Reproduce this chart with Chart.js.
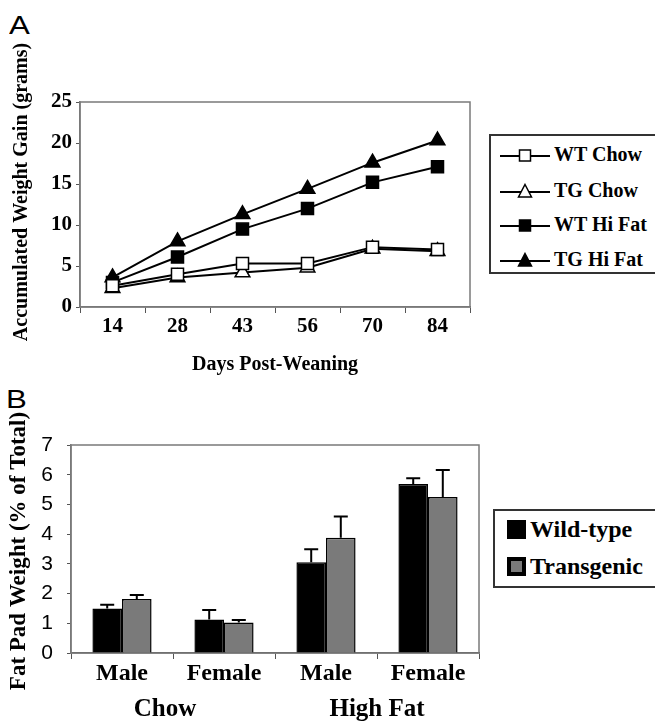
<!DOCTYPE html>
<html>
<head>
<meta charset="utf-8">
<script src="https://cdn.jsdelivr.net/npm/chart.js@4.4.1/dist/chart.umd.min.js"></script>
<style>
  html, body { margin: 0; padding: 0; background: #fff; }
  body { width: 655px; height: 724px; position: relative; overflow: hidden; font-family: "Liberation Serif", serif; }
  .panel-label { position: absolute; font-family: "Liberation Sans", Arial, sans-serif; font-size: 26px; color: #000; line-height: 1; transform: scaleX(1.2); transform-origin: left top; }
  #wrapA { position: absolute; left: 0; top: 0; width: 480px; height: 385px; }
  #wrapB { position: absolute; left: 0; top: 370px; width: 490px; height: 354px; }
  .legend { position: absolute; border: 2px solid #333; background: #fff; box-sizing: border-box; }
  .legend .row { position: absolute; left: 0; display: flex; align-items: center; font-weight: bold; color: #000; white-space: nowrap; }
  #legendA { left: 489px; top: 134px; width: 170px; height: 140px; }
  #legendA .row { font-size: 20px; left: 9px; }
  #legendA svg { margin-right: 4px; }
  #legendB { left: 493px; top: 509px; width: 170px; height: 79px; }
  #legendB .row { font-size: 24px; left: 12px; }
  #legendB .sw { width: 19px; height: 19px; box-sizing: border-box; border: 4px solid #000; margin-right: 4px; }
</style>
</head>
<body>
<div class="panel-label" style="left:9px;top:12px;">A</div>
<div class="panel-label" style="left:6px;top:386px;">B</div>
<div id="wrapA"><canvas id="chartA"></canvas></div>
<div id="wrapB"><canvas id="chartB"></canvas></div>
<div class="legend" id="legendA"></div>
<div class="legend" id="legendB"></div>
<script>
// Panel A: weight gain
const days = ['14', '28', '43', '56', '70', '84'];
const wtChow = [2.6, 4.0, 5.3, 5.3, 7.3, 7.0];
const tgChow = [2.3, 3.6, 4.2, 4.8, 7.1, 6.8];
const wtHiFat = [3.0, 6.1, 9.5, 12.0, 15.2, 17.1];
const tgHiFat = [3.6, 8.0, 11.3, 14.4, 17.6, 20.3];
const gainTicks = [0, 5, 10, 15, 20, 25];

// Panel B: fat pad weight
const sexes = ['Male', 'Female', 'Male', 'Female'];
const diets = ['Chow', 'High Fat'];
const wildType = [1.50, 1.13, 3.05, 5.69];
const wildTypeErr = [0.12, 0.32, 0.44, 0.19];
const transgenic = [1.82, 1.03, 3.88, 5.25];
const transgenicErr = [0.13, 0.08, 0.71, 0.91];
const fatTicks = [0, 1, 2, 3, 4, 5, 6, 7];

Chart.defaults.font.family = '"Liberation Serif", "Times New Roman", serif';
Chart.defaults.color = '#000';

const serifBold = (size) => ({ family: '"Liberation Serif", serif', size, weight: 'bold' });

// gray frame round the plot area
const framePlugin = {
  id: 'frame',
  beforeDatasetsDraw(chart) {
    const { ctx, chartArea: a } = chart;
    ctx.save();
    ctx.strokeStyle = '#7a7a7a';
    ctx.lineWidth = 1.5;
    ctx.strokeRect(a.left, a.top, a.right - a.left, a.bottom - a.top);
    ctx.restore();
  }
};

// rotated y title, placed a bit above the axis middle like the original
const yTitlePlugin = {
  id: 'yTitle',
  afterDraw(chart, args, opts) {
    const { ctx } = chart;
    ctx.save();
    ctx.translate(opts.x, opts.y);
    ctx.rotate(-Math.PI / 2);
    ctx.font = opts.font;
    ctx.fillStyle = '#000';
    ctx.textAlign = 'center';
    ctx.textBaseline = 'middle';
    ctx.fillText(opts.text, 0, 0);
    ctx.restore();
  }
};

// upper error bars on bars
const errorBarPlugin = {
  id: 'errorBars',
  afterDatasetsDraw(chart) {
    const { ctx } = chart;
    const yScale = chart.scales.y;
    chart.data.datasets.forEach((ds, di) => {
      if (!ds.errors) return;
      const meta = chart.getDatasetMeta(di);
      meta.data.forEach((bar, i) => {
        const top = yScale.getPixelForValue(ds.data[i] + ds.errors[i]);
        ctx.save();
        ctx.strokeStyle = '#000';
        ctx.lineWidth = 2;
        ctx.beginPath();
        ctx.moveTo(bar.x, bar.y);
        ctx.lineTo(bar.x, top);
        ctx.moveTo(bar.x - 7, top);
        ctx.lineTo(bar.x + 7, top);
        ctx.stroke();
        ctx.restore();
      });
    });
  }
};

// diet labels under the sex labels
const groupLabelPlugin = {
  id: 'groupLabels',
  afterDraw(chart) {
    const { ctx } = chart;
    const x = chart.scales.x;
    ctx.save();
    ctx.font = 'bold 25px "Liberation Serif", serif';
    ctx.fillStyle = '#000';
    ctx.textAlign = 'center';
    ctx.textBaseline = 'middle';
    diets.forEach((d, g) => {
      const cx = (x.getPixelForValue(g * 2) + x.getPixelForValue(g * 2 + 1)) / 2 - (g === 0 ? 8 : 0);
      ctx.fillText(d, cx, 340);
    });
    ctx.restore();
  }
};

const seriesA = [
  { label: 'WT Chow', data: wtChow, style: 'rect', fill: '#fff' },
  { label: 'TG Chow', data: tgChow, style: 'triangle', fill: '#fff' },
  { label: 'WT Hi Fat', data: wtHiFat, style: 'rect', fill: '#000' },
  { label: 'TG Hi Fat', data: tgHiFat, style: 'triangle', fill: '#000' }
];

new Chart(document.getElementById('chartA'), {
  type: 'line',
  data: {
    labels: days,
    datasets: seriesA.map(s => ({
      label: s.label,
      data: s.data,
      borderColor: '#000',
      borderWidth: 2,
      pointStyle: s.style,
      pointRadius: 8.5,
      pointBackgroundColor: s.fill,
      pointBorderColor: '#000',
      pointBorderWidth: 1.5,
      tension: 0
    }))
  },
  options: {
    responsive: true,
    maintainAspectRatio: false,
    animation: false,
    layout: { padding: { top: 102, right: 8, left: 0, bottom: 0 } },
    plugins: {
      legend: { display: false }, tooltip: { enabled: false },
      yTitle: { text: 'Accumulated Weight Gain (grams)', font: 'bold 20px "Liberation Serif", serif', x: 22, y: 192 }
    },
    scales: {
      x: {
        offset: true,
        grid: { offset: true, drawOnChartArea: false, drawTicks: true, tickLength: 6, color: '#555' },
        border: { color: '#7a7a7a', width: 1.5 },
        ticks: { font: serifBold(21), padding: 1 },
        title: { display: true, text: 'Days Post-Weaning', font: serifBold(20), padding: { top: 0, bottom: 8 } },
        afterFit(s) { s.height = 78; }
      },
      y: {
        min: 0, max: 25,
        afterBuildTicks(s) { s.ticks = gainTicks.map(v => ({ value: v })); },
        grid: { drawOnChartArea: false, drawTicks: true, tickLength: 4, color: '#555' },
        border: { color: '#7a7a7a', width: 1.5 },
        ticks: { font: serifBold(21), padding: 4 },
        afterFit(s) { s.width = 80; }
      }
    }
  },
  plugins: [framePlugin, yTitlePlugin]
});

new Chart(document.getElementById('chartB'), {
  type: 'bar',
  data: {
    labels: sexes,
    datasets: [
      { label: 'Wild-type', data: wildType, errors: wildTypeErr, backgroundColor: '#000', borderColor: '#000', borderWidth: 1.5 },
      { label: 'Transgenic', data: transgenic, errors: transgenicErr, backgroundColor: '#7a7a7a', borderColor: '#000', borderWidth: 1.5 }
    ]
  },
  options: {
    responsive: true,
    maintainAspectRatio: false,
    animation: false,
    layout: { padding: { top: 75, right: 11, left: 0, bottom: 0 } },
    datasets: { bar: { categoryPercentage: 0.58, barPercentage: 1.0 } },
    plugins: {
      legend: { display: false }, tooltip: { enabled: false },
      yTitle: { text: 'Fat Pad Weight (% of Total)', font: 'bold 23px "Liberation Serif", serif', x: 19, y: 181 }
    },
    scales: {
      x: {
        grid: { offset: true, drawOnChartArea: false, drawTicks: true, tickLength: 6, color: '#555' },
        border: { color: '#555', width: 1.5 },
        ticks: { font: serifBold(24), padding: 0 },
        afterFit(s) { s.height = 71; }
      },
      y: {
        min: 0, max: 7,
        afterBuildTicks(s) { s.ticks = fatTicks.map(v => ({ value: v })); },
        grid: { drawOnChartArea: false, drawTicks: true, tickLength: 4, color: '#555' },
        border: { color: '#7a7a7a', width: 1.5 },
        ticks: { font: { family: '"Liberation Sans", Arial, sans-serif', size: 21 }, padding: 14 },
        afterFit(s) { s.width = 71; }
      }
    }
  },
  plugins: [framePlugin, errorBarPlugin, groupLabelPlugin, yTitlePlugin]
});

// HTML legends
function markerSvg(style, fill) {
  let shape;
  if (style === 'rect') shape = `<rect x="19.5" y="3" width="11" height="11" fill="${fill}" stroke="#000" stroke-width="1.5"/>`;
  else shape = `<polygon points="25,1.5 31.5,14 18.5,14" fill="${fill}" stroke="#000" stroke-width="1.5"/>`;
  return `<svg width="50" height="16" viewBox="0 0 50 16"><line x1="0" y1="9" x2="50" y2="9" stroke="#000" stroke-width="2"/>${shape}</svg>`;
}
const legendA = document.getElementById('legendA');
const rowYA = [7, 43, 77, 112];
seriesA.forEach((s, i) => {
  const row = document.createElement('div');
  row.className = 'row';
  row.style.top = rowYA[i] + 'px';
  row.innerHTML = markerSvg(s.style, s.fill) + '<span>' + s.label + '</span>';
  legendA.appendChild(row);
});

const legendB = document.getElementById('legendB');
[['Wild-type', '#000', 5], ['Transgenic', '#7a7a7a', 42]].forEach(([name, col, top]) => {
  const row = document.createElement('div');
  row.className = 'row';
  row.style.top = top + 'px';
  row.innerHTML = `<div class="sw" style="background:${col}"></div><span>${name}</span>`;
  legendB.appendChild(row);
});
</script>
</body>
</html>
